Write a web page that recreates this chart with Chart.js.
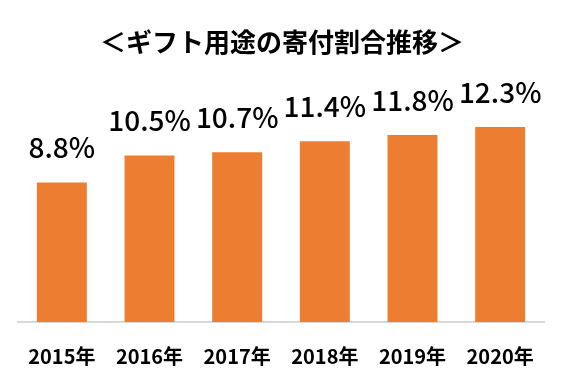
<!DOCTYPE html>
<html>
<head>
<meta charset="utf-8">
<script src="https://cdn.jsdelivr.net/npm/chart.js@4"></script>
<style>
  body { margin: 0; background: #fff; }
  #wrap { width: 572px; height: 390px; }
</style>
</head>
<body>
<div id="wrap"><canvas id="myChart"></canvas></div>
<script>
// data
const years = ['2015年', '2016年', '2017年', '2018年', '2019年', '2020年'];
const giftShare = [8.8, 10.5, 10.7, 11.4, 11.8, 12.3];
const chartTitle = '＜ギフト用途の寄付割合推移＞';

const jpFont = "'Noto Sans CJK JP', 'Noto Sans', sans-serif";

// draw the % values above each bar
const valueLabels = {
  id: 'valueLabels',
  afterDatasetsDraw(chart) {
    const ctx = chart.ctx;
    const meta = chart.getDatasetMeta(0);
    ctx.save();
    ctx.fillStyle = '#000';
    ctx.font = '500 28px ' + jpFont;
    ctx.textAlign = 'center';
    ctx.textBaseline = 'middle';
    meta.data.forEach(function(bar, i) {
      ctx.fillText(giftShare[i].toFixed(1) + '%', bar.x, bar.y - 35);
    });
    ctx.restore();
  }
};

const titleText = {
  id: 'titleText',
  afterDraw(chart) {
    const ctx = chart.ctx;
    ctx.save();
    ctx.fillStyle = '#000';
    ctx.font = 'bold 26px ' + jpFont;
    ctx.textAlign = 'center';
    ctx.textBaseline = 'middle';
    ctx.fillText(chartTitle, 282, 42);
    ctx.restore();
  }
};

const ctx = document.getElementById('myChart').getContext('2d');
const myChart = new Chart(ctx, {
  type: 'bar',
  data: {
    labels: years,
    datasets: [{
      data: giftShare,
      backgroundColor: '#ED7D31',
      barPercentage: 0.57,
      categoryPercentage: 1
    }]
  },
  options: {
    responsive: true,
    maintainAspectRatio: false,
    animation: false,
    layout: { padding: { top: 100, left: 18, right: 28, bottom: 8 } },
    plugins: {
      legend: { display: false },
      title: { display: false },
      tooltip: { enabled: false }
    },
    scales: {
      x: {
        grid: { display: false },
        border: { display: true, color: '#D9D9D9', width: 2 },
        ticks: {
          color: '#000',
          padding: 14,
          maxRotation: 0,
          font: { family: jpFont, size: 20, weight: 'bold' }
        }
      },
      y: {
        display: false,
        min: 0,
        max: 14
      }
    }
  },
  plugins: [valueLabels, titleText]
});
</script>
</body>
</html>
